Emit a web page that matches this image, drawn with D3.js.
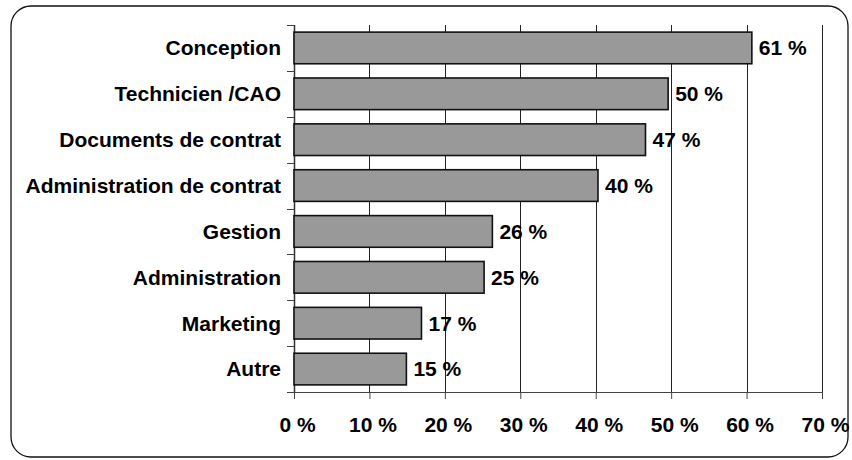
<!DOCTYPE html>
<html>
<head>
<meta charset="utf-8">
<script src="https://cdn.jsdelivr.net/npm/d3@7/dist/d3.min.js"></script>
<style>
  html, body { margin: 0; padding: 0; background: #fff; }
  svg { display: block; }
  text { font-family: "Liberation Sans", Arial, sans-serif; font-weight: bold; fill: #000; }
</style>
</head>
<body>
<svg id="chart" width="852" height="460"></svg>
<script>
// Catégories (de haut en bas) et valeurs
const categories = ['Conception', 'Technicien /CAO', 'Documents de contrat', 'Administration de contrat',
  'Gestion', 'Administration', 'Marketing', 'Autre'];
const values = [60.7, 49.6, 46.6, 40.3, 26.3, 25.2, 16.9, 14.9];
const xTicks = [0, 10, 20, 30, 40, 50, 60, 70];

const svg = d3.select('#chart');
const margin = { top: 25, right: 30, bottom: 68, left: 294 };
const width = 852 - margin.left - margin.right;   // 528
const height = 460 - margin.top - margin.bottom;  // 367

// Cadre arrondi autour du graphique
svg.append('rect')
  .attr('x', 11).attr('y', 6)
  .attr('width', 837).attr('height', 451)
  .attr('rx', 20).attr('ry', 20)
  .attr('fill', 'none')
  .attr('stroke', '#111')
  .attr('stroke-width', 1.3);

const g = svg.append('g')
  .attr('transform', `translate(${margin.left},${margin.top})`);

const x = d3.scaleLinear()
  .domain([0, 70])
  .range([0, width]);

const y = d3.scaleBand()
  .domain(categories)
  .range([0, height])
  .paddingInner(0.31)
  .paddingOuter(0.155);

// Lignes verticales de la grille
g.append('g')
  .selectAll('line')
  .data(xTicks.slice(1))
  .enter().append('line')
  .attr('x1', d => Math.round(x(d)) + 0.5)
  .attr('x2', d => Math.round(x(d)) + 0.5)
  .attr('y1', 0)
  .attr('y2', height)
  .attr('stroke', '#222')
  .attr('stroke-width', 1);

// Axe X
const xAxis = g.append('g')
  .attr('transform', `translate(0,${height})`)
  .call(d3.axisBottom(x).tickValues(xTicks).tickSize(7).tickSizeOuter(0).tickFormat(d => d + ' %'));
xAxis.select('.domain').attr('stroke', '#444').attr('stroke-width', 1.2);
xAxis.selectAll('.tick line').attr('stroke', '#444');
xAxis.selectAll('text')
  .attr('y', 25)
  .attr('dx', 3)
  .attr('dy', '0.71em')
  .style('font-size', '21px')
  .style('font-family', '"Liberation Sans", Arial, sans-serif')
  .style('font-weight', 'bold')
  .attr('fill', '#000');

// Axe Y : ligne et petites graduations entre les catégories
g.append('line')
  .attr('x1', 0.5).attr('x2', 0.5)
  .attr('y1', 0).attr('y2', height)
  .attr('stroke', '#333')
  .attr('stroke-width', 1.5);

g.append('g')
  .selectAll('line')
  .data(d3.range(categories.length + 1))
  .enter().append('line')
  .attr('x1', -7).attr('x2', 0)
  .attr('y1', i => Math.round(i * y.step()) + 0.5)
  .attr('y2', i => Math.round(i * y.step()) + 0.5)
  .attr('stroke', '#444');

// Étiquettes des catégories
g.append('g')
  .selectAll('text')
  .data(categories)
  .enter().append('text')
  .attr('x', -13)
  .attr('y', d => y(d) + y.bandwidth() / 2)
  .attr('dy', '0.35em')
  .attr('text-anchor', 'end')
  .style('font-size', '21px')
  .text(d => d);

// Barres
g.append('g')
  .selectAll('rect')
  .data(values)
  .enter().append('rect')
  .attr('x', x(0))
  .attr('y', (d, i) => y(categories[i]))
  .attr('width', d => x(d) - x(0))
  .attr('height', y.bandwidth())
  .attr('fill', '#999999')
  .attr('stroke', '#111')
  .attr('stroke-width', 1.6);

// Valeurs à droite des barres
g.append('g')
  .selectAll('text')
  .data(values)
  .enter().append('text')
  .attr('x', d => x(d) + 7)
  .attr('y', (d, i) => y(categories[i]) + y.bandwidth() / 2)
  .attr('dy', '0.35em')
  .style('font-size', '21px')
  .text(d => Math.round(d) + ' %');
</script>
</body>
</html>
